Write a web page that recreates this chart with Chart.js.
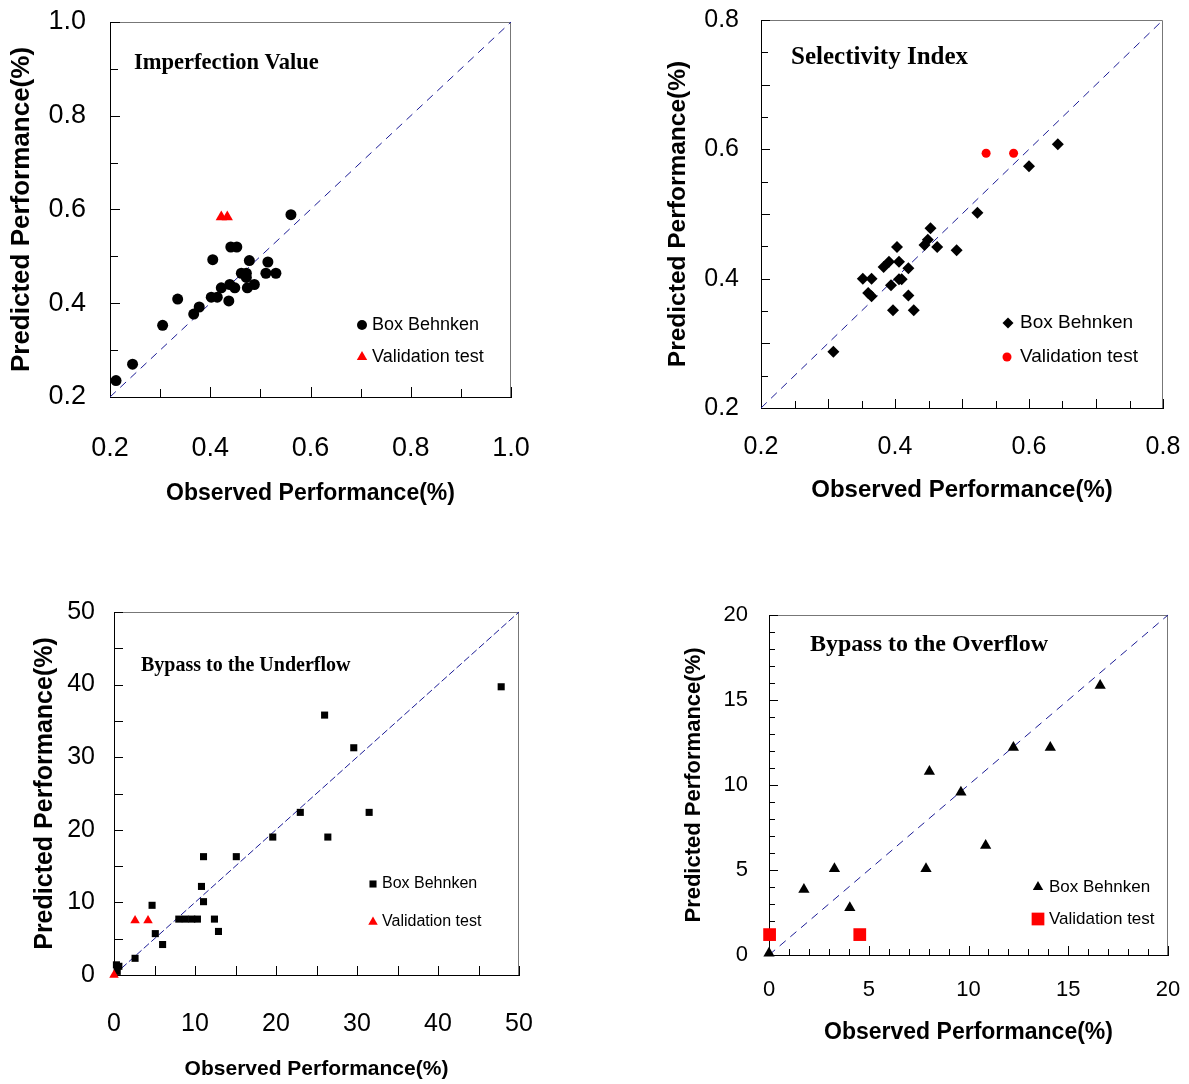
<!DOCTYPE html>
<html>
<head>
<meta charset="utf-8">
<title>Predicted vs observed performance</title>
<script src="https://cdn.jsdelivr.net/npm/chart.js@4.4.0/dist/chart.umd.min.js"></script>
<style>
  body { margin: 0; background: #fff; }
  #page { position: relative; width: 1189px; height: 1084px; overflow: hidden; }
  canvas { position: absolute; }
</style>
</head>
<body>
<div id="page">
  <canvas id="c1" width="560" height="520" style="left:0;top:0"></canvas>
  <canvas id="c2" width="529" height="520" style="left:660px;top:0"></canvas>
  <canvas id="c3" width="560" height="524" style="left:0;top:560px"></canvas>
  <canvas id="c4" width="529" height="524" style="left:660px;top:560px"></canvas>
</div>
<script>
// Imperfection Value
const imperfBoxX = [0.212, 0.245, 0.305, 0.335, 0.367, 0.378, 0.405, 0.402, 0.414, 0.422, 0.437, 0.439, 0.449,
                    0.441, 0.453, 0.462, 0.472, 0.472, 0.478, 0.474, 0.488, 0.515, 0.511, 0.531, 0.561];
const imperfBoxY = [0.235, 0.270, 0.353, 0.409, 0.377, 0.392, 0.493, 0.413, 0.413, 0.433, 0.405, 0.440, 0.433,
                    0.520, 0.520, 0.464, 0.464, 0.455, 0.491, 0.433, 0.440, 0.488, 0.464, 0.464, 0.589];
const imperfValX = [0.422, 0.434];
const imperfValY = [0.584, 0.584];
const imperfLine = [0.2, 1.0];
const imperfTicks = ['0.2', '0.4', '0.6', '0.8', '1.0'];

// Selectivity Index
const selBoxX = [0.308, 0.352, 0.365, 0.360, 0.365, 0.383, 0.391, 0.394, 0.397, 0.403, 0.406, 0.406,
                 0.410, 0.420, 0.420, 0.428, 0.444, 0.449, 0.453, 0.463, 0.492, 0.523, 0.600, 0.643];
const selBoxY = [0.287, 0.400, 0.400, 0.378, 0.373, 0.418, 0.426, 0.390, 0.351, 0.449, 0.426, 0.399,
                 0.399, 0.416, 0.374, 0.351, 0.452, 0.460, 0.478, 0.449, 0.444, 0.502, 0.574, 0.608];
const selValX = [0.536, 0.577];
const selValY = [0.594, 0.594];
const selLine = [0.2, 0.8];
const selTicks = ['0.2', '0.4', '0.6', '0.8'];

// Bypass to the Underflow
const underBoxX = [47.8, 26.0, 29.6, 31.5, 23.0, 26.4, 19.6, 11.05, 15.1, 10.8, 11.05, 4.7,
                   8.0, 8.8, 9.6, 10.3, 12.4, 12.9, 5.1, 6.0, 2.6, 0.3, 0.6, 0.4];
const underBoxY = [39.7, 35.8, 31.3, 22.4, 22.4, 19.0, 19.0, 16.3, 16.3, 12.2, 10.1, 9.6,
                   7.7, 7.7, 7.7, 7.7, 7.7, 6.0, 5.7, 4.2, 2.3, 1.4, 1.2, 0.5];
const underValX = [2.6, 4.2, 0];
const underValY = [7.5, 7.5, 0];
const underLine = [0, 50];
const underTicks = ['0', '10', '20', '30', '40', '50'];

// Bypass to the Overflow
const overBoxX = [16.6, 12.25, 14.1, 8.04, 9.62, 10.86, 7.87, 3.28, 1.75, 4.05, 0];
const overBoxY = [15.85, 12.2, 12.2, 10.8, 9.58, 6.44, 5.07, 5.07, 3.85, 2.78, 0.1];
const overValX = [0.03, 4.55];
const overValY = [1.2, 1.2];
const overLine = [0, 20];
const overTicks = ['0', '5', '10', '15', '20'];

const SANS = "'Liberation Sans', Arial, sans-serif";
const SERIF = "'Liberation Serif', 'Times New Roman', serif";

function pts(xs, ys) {
  return xs.map((x, i) => ({ x: x, y: ys[i] }));
}

// fallback marker drawing if Chart.helpers.drawPoint is missing
function marker(ctx, style, r, x, y) {
  if (Chart.helpers && Chart.helpers.drawPoint) {
    Chart.helpers.drawPoint(ctx, { pointStyle: style, radius: r, rotation: 0, borderWidth: 0 }, x, y);
    return;
  }
  ctx.beginPath();
  if (style === 'circle') ctx.arc(x, y, r, 0, Math.PI * 2);
  else if (style === 'rect') { const s = r * Math.SQRT1_2; ctx.rect(x - s, y - s, 2 * s, 2 * s); }
  else if (style === 'rectRot') { ctx.moveTo(x, y - r); ctx.lineTo(x + r, y); ctx.lineTo(x, y + r); ctx.lineTo(x - r, y); }
  else { ctx.moveTo(x, y - r); ctx.lineTo(x + r * 0.866, y + r / 2); ctx.lineTo(x - r * 0.866, y + r / 2); }
  ctx.closePath();
  ctx.fill();
}

// grey frame + inward tick marks, then title and legend inside the plot
const frameTicks = {
  id: 'frameTicks',
  beforeDatasetsDraw(chart, args, o) {
    const { ctx, chartArea: a, scales } = chart;
    ctx.save();
    ctx.strokeStyle = '#777';
    ctx.lineWidth = 1;
    ctx.beginPath();
    ctx.moveTo(a.left, a.top + 0.5);
    ctx.lineTo(a.right - 0.5, a.top + 0.5);
    ctx.lineTo(a.right - 0.5, a.bottom);
    ctx.stroke();

    ctx.strokeStyle = '#000';
    ['x', 'y'].forEach(id => {
      const s = scales[id];
      const t = o[id];
      const n = Math.round((s.max - s.min) / t.step);
      for (let i = 1; i <= n; i++) {
        const v = s.min + i * t.step;
        const p = Math.round(s.getPixelForValue(v)) + 0.5;
        const len = i % t.every === 0 ? t.major : t.minor;
        ctx.beginPath();
        if (id === 'x') { ctx.moveTo(p, a.bottom); ctx.lineTo(p, a.bottom - len); }
        else { ctx.moveTo(a.left, p); ctx.lineTo(a.left + len, p); }
        ctx.stroke();
      }
    });
    ctx.restore();
  },
  afterDraw(chart, args, o) {
    const ctx = chart.ctx;
    ctx.save();
    ctx.fillStyle = '#000';
    ctx.textBaseline = 'middle';
    ctx.textAlign = 'left';
    ctx.font = 'bold ' + o.title.size + 'px ' + SERIF;
    ctx.fillText(o.title.text, o.title.x, o.title.y);
    ctx.font = o.legend.size + 'px ' + SANS;
    o.legend.items.forEach(it => {
      ctx.fillStyle = it.color;
      marker(ctx, it.style, it.r, it.mx, it.y);
      ctx.fillStyle = '#000';
      ctx.fillText(it.label, it.tx, it.y);
    });
    ctx.restore();
  }
};

function makeChart(id, d) {
  const axis = (min, max, step, labels, fontSize, pad, title, tSize, tPad, fit) => ({
    type: 'linear',
    min: min, max: max,
    grid: { display: false, drawTicks: false },
    border: { display: true, color: '#000', width: 1 },
    ticks: {
      stepSize: step,
      autoSkip: false,
      color: '#000',
      padding: pad,
      font: { family: SANS, size: fontSize },
      callback: (v, i) => labels[i]
    },
    title: {
      display: true, text: title, color: '#000',
      font: { family: SANS, size: tSize, weight: 'bold' },
      padding: tPad
    },
    afterFit: s => {
      fit(s);
      // keep the plot box where the layout padding puts it
      s.paddingTop = s.paddingBottom = s.paddingLeft = s.paddingRight = 0;
    }
  });

  return new Chart(document.getElementById(id), {
    type: 'scatter',
    data: {
      datasets: [
        {
          label: 'Validation test',
          data: pts(d.valX, d.valY),
          pointStyle: d.valStyle, pointRadius: d.valR, pointHoverRadius: d.valR,
          backgroundColor: '#ff0000', borderWidth: 0, order: 0
        },
        {
          label: 'Box Behnken',
          data: pts(d.boxX, d.boxY),
          pointStyle: d.boxStyle, pointRadius: d.boxR, pointHoverRadius: d.boxR,
          backgroundColor: '#000', borderWidth: 0, order: 1
        },
        {
          label: '1:1',
          data: pts(d.line, d.line),
          showLine: true, pointRadius: 0, borderColor: '#1b1b95',
          borderWidth: 1, borderDash: d.dash, order: 2
        }
      ]
    },
    options: {
      responsive: false,
      animation: false,
      clip: false,
      layout: { padding: d.padding },
      plugins: {
        legend: { display: false },
        tooltip: { enabled: false },
        frameTicks: d.decor
      },
      scales: {
        x: axis(d.line[0], d.line[1], d.step, d.ticks, d.xFont, d.xPad, 'Observed Performance(%)',
                d.xTitle, d.xTitlePad, s => { s.height = d.xH; }),
        y: axis(d.line[0], d.line[1], d.step, d.ticks, d.yFont, d.yPad, 'Predicted Performance(%)',
                d.yTitle, d.yTitlePad, s => { s.width = d.yW; })
      }
    },
    plugins: [frameTicks]
  });
}

makeChart('c1', {
  boxX: imperfBoxX, boxY: imperfBoxY, valX: imperfValX, valY: imperfValY, line: imperfLine,
  ticks: imperfTicks, step: 0.2,
  boxStyle: 'circle', boxR: 5.5, valStyle: 'triangle', valR: 6.5, dash: [8, 6],
  padding: { left: 0, top: 22, right: 49, bottom: 0 }, yW: 110, xH: 123,
  xFont: 27, yFont: 27, xPad: 35, yPad: 24,
  xTitle: 23, xTitlePad: { top: 0, bottom: 13 }, yTitle: 26, yTitlePad: { top: 6, bottom: 0 },
  decor: {
    x: { step: 0.1, every: 2, minor: 8, major: 10 },
    y: { step: 0.1, every: 2, minor: 8, major: 10 },
    title: { text: 'Imperfection Value', size: 22.5, x: 134, y: 63 },
    legend: { size: 18, items: [
      { style: 'circle', r: 5, color: '#000', mx: 362, tx: 372, y: 325, label: 'Box Behnken' },
      { style: 'triangle', r: 6, color: '#ff0000', mx: 362, tx: 372, y: 357, label: 'Validation test' }
    ] }
  }
});

makeChart('c2', {
  boxX: selBoxX, boxY: selBoxY, valX: selValX, valY: selValY, line: selLine,
  ticks: selTicks, step: 0.2,
  boxStyle: 'rectRot', boxR: 6, valStyle: 'circle', valR: 4.5, dash: [8, 6],
  padding: { left: 0, top: 20, right: 26, bottom: 0 }, yW: 101, xH: 112,
  xFont: 25, yFont: 25, xPad: 24, yPad: 22,
  xTitle: 24, xTitlePad: { top: 0, bottom: 15 }, yTitle: 24.5, yTitlePad: { top: 4, bottom: 0 },
  decor: {
    x: { step: 0.05, every: 2, minor: 7, major: 9 },
    y: { step: 0.05, every: 2, minor: 7, major: 9 },
    title: { text: 'Selectivity Index', size: 25, x: 131, y: 58 },
    legend: { size: 19, items: [
      { style: 'rectRot', r: 5.5, color: '#000', mx: 348, tx: 360, y: 323, label: 'Box Behnken' },
      { style: 'circle', r: 4.5, color: '#ff0000', mx: 347, tx: 360, y: 357, label: 'Validation test' }
    ] }
  }
});

makeChart('c3', {
  boxX: underBoxX, boxY: underBoxY, valX: underValX, valY: underValY, line: underLine,
  ticks: underTicks, step: 10,
  boxStyle: 'rect', boxR: 5, valStyle: 'triangle', valR: 5.5, dash: [7, 3],
  padding: { left: 0, top: 52, right: 41, bottom: 0 }, yW: 114, xH: 109,
  xFont: 25, yFont: 25, xPad: 34, yPad: 19,
  xTitle: 21, xTitlePad: { top: 0, bottom: 2 }, yTitle: 25, yTitlePad: { top: 30, bottom: 0 },
  decor: {
    x: { step: 5, every: 2, minor: 9, major: 9 },
    y: { step: 5, every: 2, minor: 9, major: 9 },
    title: { text: 'Bypass to the Underflow', size: 20, x: 141, y: 106 },
    legend: { size: 16, items: [
      { style: 'rect', r: 5, color: '#000', mx: 373, tx: 382, y: 324, label: 'Box Behnken' },
      { style: 'triangle', r: 5.5, color: '#ff0000', mx: 373, tx: 382, y: 362, label: 'Validation test' }
    ] }
  }
});

makeChart('c4', {
  boxX: overBoxX, boxY: overBoxY, valX: overValX, valY: overValY, line: overLine,
  ticks: overTicks, step: 5,
  boxStyle: 'triangle', boxR: 6.5, valStyle: 'rect', valR: 9, dash: [8, 6],
  padding: { left: 0, top: 55, right: 21, bottom: 0 }, yW: 109, xH: 129,
  xFont: 22, yFont: 22, xPad: 22, yPad: 21,
  xTitle: 23, xTitlePad: { top: 0, bottom: 38 }, yTitle: 22, yTitlePad: { top: 21, bottom: 0 },
  decor: {
    x: { step: 1, every: 5, minor: 6, major: 9 },
    y: { step: 1, every: 5, minor: 6, major: 9 },
    title: { text: 'Bypass to the Overflow', size: 24, x: 150, y: 85 },
    legend: { size: 17, items: [
      { style: 'triangle', r: 6, color: '#000', mx: 378, tx: 389, y: 327, label: 'Box Behnken' },
      { style: 'rect', r: 9, color: '#ff0000', mx: 378, tx: 389, y: 359, label: 'Validation test' }
    ] }
  }
});
</script>
</body>
</html>
